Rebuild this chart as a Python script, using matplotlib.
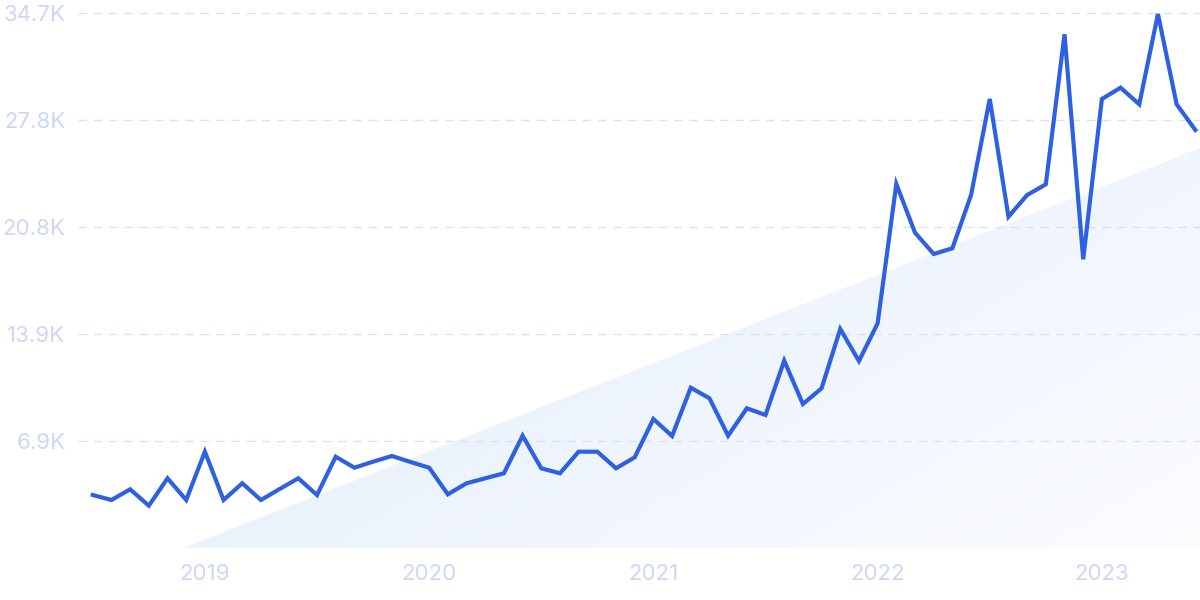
import numpy as np
import matplotlib
matplotlib.use("Agg")
import matplotlib.pyplot as plt
from matplotlib.patches import Polygon

# monthly values, Jul 2018 .. Jun 2023
values = [3457, 3133, 3827, 2763, 4540, 3133, 6266, 3133, 4216, 3133,
          3846, 4540, 3457, 5941, 5228, 5617, 5987, 5600, 5228, 3502,
          4216, 4540, 4864, 7303, 5189, 4864, 6266, 6266, 5189, 5902,
          8386, 7284, 10417, 9729, 7303, 9080, 8646, 12168, 9359, 10378,
          14224, 12148, 14594, 23629, 20470, 19088, 19458, 22915, 29142, 21508,
          22915, 23609, 33338, 18745, 29142, 29875, 28798, 34655, 28798, 27132]
year_labels = ["2019", "2020", "2021", "2022", "2023"]
year_pos = [6, 18, 30, 42, 54]
ytick_vals = [6943, 13886, 20830, 27773, 34716]
ytick_labels = ["6.9K", "13.9K", "20.8K", "27.8K", "34.7K"]
# decorative trend wedge: start month index, value at right edge
trend_start = 4.8
trend_end = 25960

x = np.arange(len(values))

fig = plt.figure(figsize=(12, 6), dpi=100)
ax = fig.add_axes([0.065, 51.7 / 600, 0.935, 548.3 / 600])
xmin, xmax = -0.79, 59.25
ymin, ymax = 0, 35563

# gradient wedge
grad = np.zeros((100, 100, 4))
gx, gy = np.meshgrid(np.linspace(0, 1, 100), np.linspace(0, 1, 100))
t = np.clip(0.6 * gx + 0.4 * (1 - gy), 0, 1)
c0 = np.array([0.885, 0.925, 0.985])
c1 = np.array([0.985, 0.99, 1.0])
for k in range(3):
    grad[..., k] = c0[k] * (1 - t) + c1[k] * t
grad[..., 3] = 1
im = ax.imshow(grad, extent=[trend_start, xmax, 0, trend_end], origin="lower",
               aspect="auto", zorder=0)
tri = Polygon([[trend_start, 0], [xmax, trend_end], [xmax, 0]], closed=True,
              transform=ax.transData, facecolor="none", edgecolor="none")
ax.add_patch(tri)
im.set_clip_path(tri)

ax.plot(x, values, color="#2e60e3", lw=3.0, solid_joinstyle="miter", zorder=3)

ax.set_xlim(xmin, xmax)
ax.set_ylim(ymin, ymax)
for v in ytick_vals:
    ax.axhline(v, color="#d6e2fb", lw=1.0, dashes=(6, 5), zorder=1)

ax.set_yticks(ytick_vals)
ax.set_yticklabels(ytick_labels)
ax.set_xticks(year_pos)
ax.set_xticklabels(year_labels)
ax.tick_params(axis="both", length=0, labelsize=16, labelcolor="#cdd7f5")
ax.tick_params(axis="y", pad=9)
ax.tick_params(axis="x", pad=11)
for lab in ax.get_xticklabels() + ax.get_yticklabels():
    lab.set_family("Inter")
for s in ax.spines.values():
    s.set_visible(False)

fig.savefig("out.png", dpi=100)
